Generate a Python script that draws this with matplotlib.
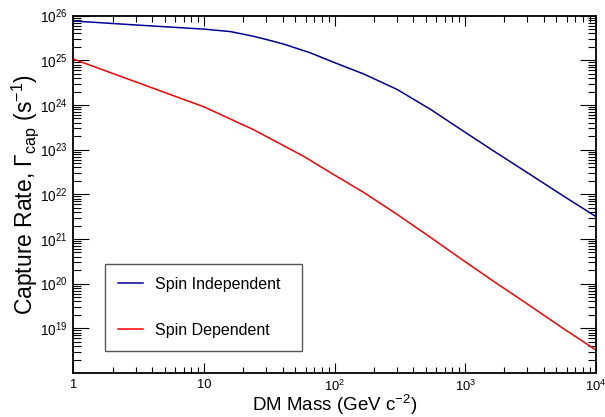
import matplotlib
matplotlib.use("Agg")
import matplotlib.pyplot as plt
from matplotlib.ticker import LogLocator, FixedLocator, FixedFormatter, NullFormatter

plt.rcParams['font.family'] = ['Liberation Sans', 'DejaVu Sans']
plt.rcParams['mathtext.fontset'] = 'custom'
plt.rcParams['mathtext.rm'] = 'Liberation Sans'
plt.rcParams['mathtext.it'] = 'Liberation Sans:italic'
plt.rcParams['mathtext.bf'] = 'Liberation Sans:bold'

# Data (DM mass in GeV c^-2, capture rate in s^-1)
si_mass = [1, 3, 10, 16, 24, 32, 41, 65, 100, 166, 300, 540, 970, 1740, 3140, 5620, 10000]
si_rate = [7.6e25, 6.2e25, 5.0e25, 4.4e25, 3.45e25, 2.8e25, 2.3e25, 1.48e25, 8.9e24,
           5.0e24, 2.25e24, 8.1e23, 2.6e23, 8.5e22, 2.8e22, 9.3e21, 3.2e21]

sd_mass = [1, 3, 10, 24, 58, 100, 166, 300, 540, 970, 1740, 3140, 5620, 10000]
sd_rate = [1.07e25, 3.3e24, 9.1e23, 2.8e23, 7.1e22, 2.7e22, 1.12e22, 3.6e21,
           1.1e21, 3.3e20, 1.02e20, 3.2e19, 1.0e19, 3.3e18]

x_ticks = [1, 10, 100, 1000, 10000]
x_ticklabels = ['1', '10', '$10^{2}$', '$10^{3}$', '$10^{4}$']
y_ticks = [1e19, 1e20, 1e21, 1e22, 1e23, 1e24, 1e25, 1e26]
y_ticklabels = ['$10^{19}$', '$10^{20}$', '$10^{21}$', '$10^{22}$',
                '$10^{23}$', '$10^{24}$', '$10^{25}$', '$10^{26}$']

fig = plt.figure(figsize=(6.05, 4.17), dpi=100)
ax = fig.add_axes([0.1212, 0.1055, 0.8634, 0.8569])

ax.plot(si_mass, si_rate, color='#000099', lw=1.1, label='Spin Independent')
ax.plot(sd_mass, sd_rate, color='#ff0000', lw=1.1, label='Spin Dependent')

ax.set_xscale('log')
ax.set_yscale('log')
ax.set_xlim(1, 1e4)
ax.set_ylim(1e18, 1e26)

ax.xaxis.set_major_locator(FixedLocator(x_ticks))
ax.xaxis.set_major_formatter(FixedFormatter(x_ticklabels))
ax.yaxis.set_major_locator(FixedLocator(y_ticks))
ax.yaxis.set_major_formatter(FixedFormatter(y_ticklabels))
ax.xaxis.set_minor_locator(LogLocator(base=10, subs=range(2, 10), numticks=20))
ax.yaxis.set_minor_locator(LogLocator(base=10, subs=range(2, 10), numticks=20))
ax.xaxis.set_minor_formatter(NullFormatter())
ax.yaxis.set_minor_formatter(NullFormatter())

ax.tick_params(axis='both', which='both', direction='in', top=True, right=True,
               width=0.8, color='black')
ax.tick_params(axis='x', which='major', length=7.2, labelsize=9.3, pad=4.5)
ax.tick_params(axis='x', which='minor', length=4.3)
ax.tick_params(axis='y', which='major', length=11.5, labelsize=9.8, pad=4)
ax.tick_params(axis='y', which='minor', length=5.8)

for s in ax.spines.values():
    s.set_linewidth(1.3)

ax.set_xlabel('DM Mass (GeV c$^{-2}$)', fontsize=13.5, labelpad=-0.8)
ax.set_ylabel('Capture Rate, $\\Gamma_{\\mathrm{cap}}$ (s$^{-1}$)', fontsize=16.5, labelpad=-0.5)

leg = ax.legend(loc='lower left', bbox_to_anchor=(0.0607, 0.0624, 0.377, 0.2),
                mode='expand', borderaxespad=0,
                fontsize=11.5, handlelength=1.6, labelspacing=1.95,
                borderpad=0.8, handletextpad=0.75, fancybox=False, framealpha=1,
                edgecolor='#555555')
leg.get_frame().set_linewidth(1.0)

fig.savefig('out.png', dpi=100)
